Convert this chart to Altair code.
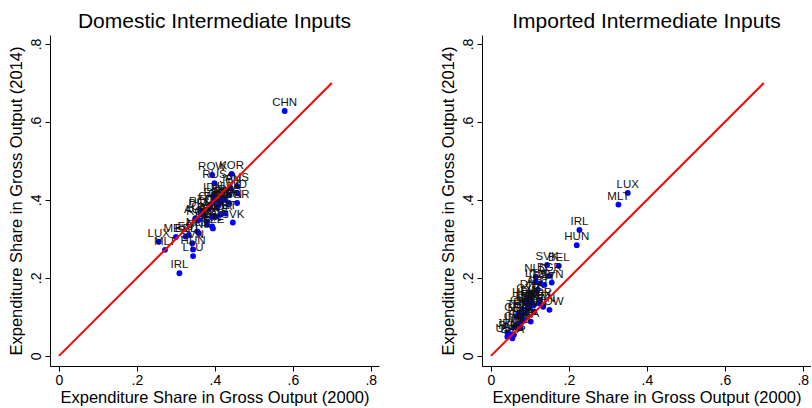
import altair as alt
import pandas as pd

# Domestic intermediate inputs: (country, share 2000, share 2014)
dom_c = ["CHN","KOR","ROW","RUS","AUS","JPN","USA","IND","BRA","TWN",
         "BGR","TUR","ITA","ESP","FRA","GBR","CAN","IDN","MEX","POL",
         "PRT","GRC","SVK","ROU","HRV","CZE","FIN","SWE","NOR","AUT",
         "DEU","NLD","DNK","SVN","BEL","EST","LVA","CYP","CHE","LUX",
         "MLT","HUN","LTU","IRL"]
dom_x = [0.579,0.443,0.393,0.399,0.457,0.440,0.436,0.457,0.420,0.436,
         0.457,0.385,0.410,0.400,0.425,0.415,0.405,0.395,0.300,0.363,
         0.427,0.393,0.446,0.359,0.380,0.395,0.393,0.402,0.414,0.350,
         0.363,0.355,0.359,0.342,0.325,0.333,0.380,0.370,0.388,0.256,
         0.272,0.344,0.344,0.309]
dom_y = [0.628,0.467,0.464,0.443,0.435,0.430,0.413,0.417,0.405,0.392,
         0.392,0.378,0.387,0.398,0.400,0.395,0.380,0.410,0.305,0.374,
         0.365,0.357,0.342,0.349,0.336,0.327,0.332,0.357,0.362,0.353,
         0.370,0.319,0.315,0.289,0.306,0.310,0.345,0.362,0.388,0.293,
         0.272,0.273,0.256,0.212]

# Imported intermediate inputs
imp_c = ["LUX","MLT","IRL","HUN","SVK","BEL","LTU","CZE","EST","SVN",
         "NLD","BGR","AUT","CYP","DNK","FIN","KOR","TWN","LVA","CHE",
         "DEU","SWE","POL","HRV","PRT","ESP","MEX","CAN","ROW","ROU",
         "NOR","GRC","FRA","ITA","GBR","TUR","IDN","CHN","IND","JPN",
         "USA","BRA","AUS","RUS"]
imp_x = [0.351,0.327,0.227,0.220,0.144,0.174,0.114,0.127,0.137,0.156,
         0.115,0.150,0.120,0.095,0.105,0.100,0.125,0.110,0.090,0.080,
         0.095,0.100,0.105,0.085,0.110,0.085,0.123,0.134,0.150,0.090,
         0.075,0.067,0.083,0.102,0.076,0.070,0.060,0.065,0.076,0.042,
         0.042,0.055,0.059,0.050]
imp_y = [0.418,0.388,0.323,0.284,0.233,0.231,0.190,0.186,0.182,0.188,
         0.203,0.205,0.170,0.150,0.160,0.145,0.140,0.114,0.135,0.120,
         0.130,0.125,0.135,0.140,0.130,0.110,0.135,0.126,0.118,0.115,
         0.100,0.101,0.092,0.088,0.085,0.110,0.075,0.080,0.071,0.060,
         0.049,0.045,0.054,0.055]

# 45-degree reference line
line_x = [0.0, 0.7]
line_y = [0.0, 0.7]

tick_vals = [0, 0.2, 0.4, 0.6, 0.8]
FONT = "Liberation Sans"
lbl_expr = "datum.value == 0 ? '0' : replace(format(datum.value, '.1f'), '0.', '.')"

xs = alt.Scale(domain=[-0.023, 0.821], nice=False, zero=False)
ys = alt.Scale(domain=[-0.026, 0.823], nice=False, zero=False)

x_axis = alt.Axis(values=tick_vals, labelExpr=lbl_expr, grid=False, tickSize=5,
                  labelPadding=2, labelFontSize=14, titleFontSize=16.5,
                  titlePadding=2, labelFont=FONT, titleFont=FONT,
                  titleFontWeight="normal")
y_axis = alt.Axis(values=tick_vals, labelExpr=lbl_expr, grid=False, tickSize=5,
                  labelAngle=270, labelAlign="center", labelBaseline="bottom",
                  labelPadding=2, labelFontSize=14, titleFontSize=16.5,
                  titlePadding=5, labelFont=FONT, titleFont=FONT,
                  titleFontWeight="normal")

XT = "Expenditure Share in Gross Output (2000)"
YT = "Expenditure Share in Gross Output (2014)"


def panel(c, x, y, title):
    df = pd.DataFrame({"c": c, "x": x, "y": y})
    ldf = pd.DataFrame({"x": line_x, "y": line_y})
    enc_x = alt.X("x:Q", scale=xs, axis=x_axis, title=XT)
    enc_y = alt.Y("y:Q", scale=ys, axis=y_axis, title=YT)
    base = alt.Chart(df)
    pts = base.mark_circle(size=34, color="#0000ff", opacity=1).encode(x=enc_x, y=enc_y)
    txt = base.mark_text(font=FONT, fontSize=11.5, dy=-5, baseline="alphabetic",
                         color="#111111").encode(x=enc_x, y=enc_y, text="c:N")
    ln = alt.Chart(ldf).mark_line(color="#ff0000", strokeWidth=2).encode(x=enc_x, y=enc_y)
    return alt.layer(pts, txt, ln).properties(
        width=329, height=331,
        title=alt.TitleParams(title, fontSize=21, font=FONT, fontWeight="normal",
                              anchor="middle", offset=3, color="black"))


left = panel(dom_c, dom_x, dom_y, "Domestic Intermediate Inputs")
right = panel(imp_c, imp_x, imp_y, "Imported Intermediate Inputs")

chart = alt.hconcat(left, right, spacing=103, bounds="flush").properties(
    padding={"left": 8, "top": 11, "right": 0, "bottom": 0},
    background="white",
).configure_view(stroke=None).configure_axis(
    domainColor="black", tickColor="black", labelColor="black", titleColor="black",
    domainWidth=1, tickWidth=1)

chart.save("out.html", embed_options={"renderer": "svg", "actions": False})
